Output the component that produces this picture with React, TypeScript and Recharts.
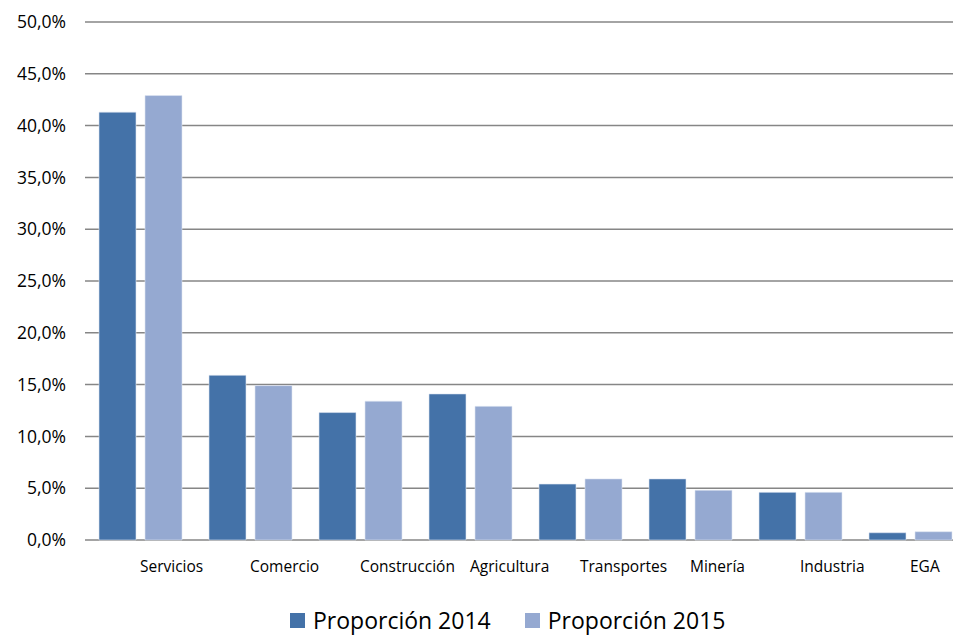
import React from 'react';
import { BarChart, Bar, XAxis, YAxis, CartesianGrid, Legend } from 'recharts';

const categories = ['Servicios', 'Comercio', 'Construcción', 'Agricultura', 'Transportes', 'Minería', 'Industria', 'EGA'];
const proporcion2014 = [41.3, 15.9, 12.3, 14.1, 5.4, 5.9, 4.6, 0.7];
const proporcion2015 = [42.9, 14.9, 13.4, 12.9, 5.9, 4.8, 4.6, 0.8];
const yTicks = [0, 5, 10, 15, 20, 25, 30, 35, 40, 45, 50];

const SERIES = [
  { key: 'p2014', name: 'Proporción 2014', color: '#4472A8' },
  { key: 'p2015', name: 'Proporción 2015', color: '#95A9D1' },
];

const data = categories.map((name, i) => ({
  name,
  p2014: proporcion2014[i],
  p2015: proporcion2015[i],
}));

const FONT = '"Open Sans", "Liberation Sans", sans-serif';

// Excel puts the category label starting at the group centre
const CategoryTick = (props: any) => {
  const { x, y, payload } = props;
  return (
    <text x={x} y={y} dy={30} textAnchor="start" fontFamily={FONT} fontSize={15.5} fill="#000">
      {payload.value}
    </text>
  );
};

const LegendContent = () => (
  <div style={{ display: 'flex', alignItems: 'center', paddingLeft: 290, fontFamily: FONT, fontSize: 23, lineHeight: '30px' }}>
    {SERIES.map((s, i) => (
      <div key={s.key} style={{ display: 'flex', alignItems: 'center', marginLeft: i ? 34 : 0 }}>
        <span style={{ width: 15, height: 15, background: s.color, display: 'inline-block', marginRight: 8 }} />
        <span>{s.name}</span>
      </div>
    ))}
  </div>
);

export default function App() {
  return (
    <div style={{ position: 'absolute', left: 0, top: 0, width: 953, height: 635, overflow: 'hidden', background: '#fff' }}>
      <BarChart
        width={980}
        height={635}
        data={data}
        margin={{ top: 22, right: 15, bottom: 0, left: 0 }}
        barGap={9}
        barSize={37}
      >
        <CartesianGrid vertical={false} stroke="#868686" strokeWidth={1.5} />
        <XAxis
          dataKey="name"
          axisLine={false}
          tickLine={false}
          tickSize={0}
          height={65}
          interval={0}
          tick={<CategoryTick />}
        />
        <YAxis
          domain={[0, 50]}
          ticks={yTicks}
          width={85}
          axisLine={false}
          tickLine={false}
          tickSize={0}
          tickMargin={19}
          tick={{ fontFamily: FONT, fontSize: 17.5, fill: '#000' }}
          tickFormatter={(v: number) => v.toFixed(1).replace('.', ',') + '%'}
        />
        <Legend
          content={<LegendContent />}
          wrapperStyle={{ position: 'absolute', top: 605, left: 0, width: 953, height: 30 }}
        />
        {SERIES.map((s) => (
          <Bar key={s.key} dataKey={s.key} name={s.name} fill={s.color} stroke="#dfe6f1" strokeWidth={0.6} isAnimationActive={false} />
        ))}
      </BarChart>
    </div>
  );
}
